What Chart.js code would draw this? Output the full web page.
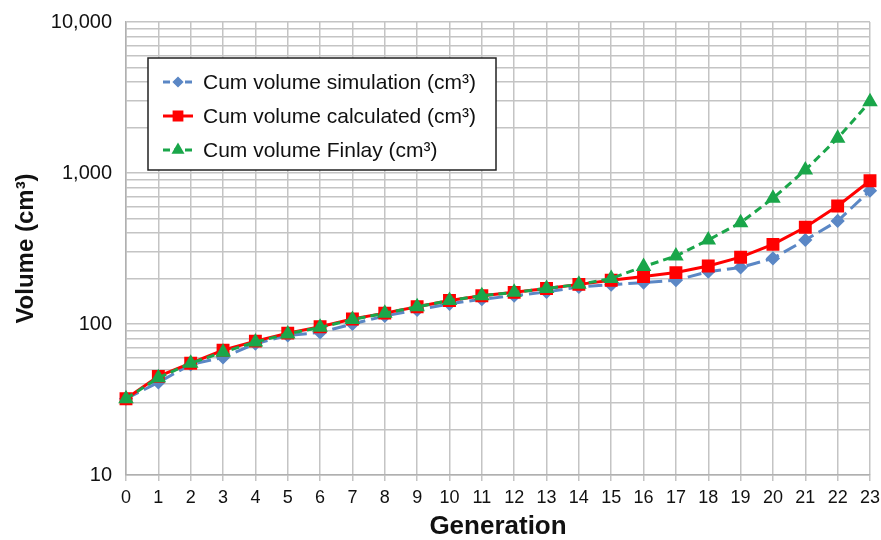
<!DOCTYPE html>
<html>
<head>
<meta charset="utf-8">
<script src="https://cdn.jsdelivr.net/npm/chart.js@4.4.0/dist/chart.umd.min.js"></script>
<style>
  html, body { margin: 0; padding: 0; background: #fff; }
  #wrap { width: 881px; height: 540px; }
</style>
</head>
<body>
<div id="wrap"><canvas id="chartLine" width="881" height="540"></canvas></div>
<script>
// data
var generations = ['0','1','2','3','4','5','6','7','8','9','10','11','12','13','14','15','16','17','18','19','20','21','22','23'];
var simVolume  = [32, 41, 54, 60, 74, 84, 88, 100, 113, 124, 136, 146, 154, 163, 176, 182, 188, 195, 222, 237, 272, 360, 481, 763];
var calcVolume = [32, 45, 55, 67, 77, 87, 96, 108, 118, 130, 143, 154, 162, 172, 183, 195, 206, 219, 242, 277, 337, 437, 605, 889];
var finlayVolume = [32, 44, 55, 65, 76, 86, 95, 107, 118, 130, 143, 154, 162, 172, 183, 200, 240, 282, 360, 469, 680, 1047, 1698, 2966];
var yTickValues = [10, 100, 1000, 10000];

var FONT = "'Liberation Sans', Arial, sans-serif";
var NARROW = "'Liberation Sans Narrow', 'Arial Narrow', 'Liberation Sans', sans-serif";

// legend box inside the plot, drawn by hand
var boxLegend = {
    id: 'boxLegend',
    afterDraw: function(chart) {
        var ctx = chart.ctx;
        var x0 = 148, y0 = 58, w = 348, h = 112;
        ctx.save();
        ctx.fillStyle = '#fff';
        ctx.fillRect(x0, y0, w, h);
        ctx.strokeStyle = '#222';
        ctx.lineWidth = 1.5;
        ctx.strokeRect(x0, y0, w, h);
        var rows = [82, 116, 150];
        chart.data.datasets.forEach(function(ds, i) {
            var y = rows[i];
            ctx.strokeStyle = ds.borderColor;
            ctx.lineWidth = 3;
            ctx.setLineDash(ds.borderDash ? [7, 4] : []);
            ctx.beginPath();
            ctx.moveTo(163, y);
            ctx.lineTo(193, y);
            ctx.stroke();
            ctx.setLineDash([]);
            ctx.fillStyle = ds.pointBackgroundColor;
            ctx.strokeStyle = ds.pointBorderColor;
            Chart.helpers.drawPoint(ctx, {
                pointStyle: ds.pointStyle,
                radius: ds.pointRadius - 1.5,
                borderWidth: 1
            }, 178, y);
            ctx.fillStyle = '#111';
            ctx.font = '21px ' + FONT;
            ctx.textBaseline = 'middle';
            ctx.textAlign = 'left';
            ctx.fillText(ds.label, 203, y + 1);
        });
        ctx.restore();
    }
};

var ctx = document.getElementById('chartLine').getContext('2d');
var chart = new Chart(ctx, {
    type: 'line',
    data: {
        labels: generations,
        datasets: [{
            label: 'Cum volume simulation (cm³)',
            data: simVolume,
            borderColor: '#5b87c5',
            backgroundColor: '#5b87c5',
            pointBackgroundColor: '#5b87c5',
            pointBorderColor: '#5b87c5',
            borderWidth: 3,
            borderDash: [14, 6],
            pointStyle: 'rectRot',
            pointRadius: 5,
            order: 3
        }, {
            label: 'Cum volume calculated (cm³)',
            data: calcVolume,
            borderColor: '#ff0000',
            backgroundColor: '#ff0000',
            pointBackgroundColor: '#ff0000',
            pointBorderColor: '#ff0000',
            borderWidth: 3,
            pointStyle: 'rect',
            pointRadius: 7,
            order: 2
        }, {
            label: 'Cum volume Finlay (cm³)',
            data: finlayVolume,
            borderColor: '#1aa64a',
            backgroundColor: '#1aa64a',
            pointBackgroundColor: '#1aa64a',
            pointBorderColor: '#1aa64a',
            borderWidth: 3,
            borderDash: [8, 5],
            pointStyle: 'triangle',
            pointRadius: 6,
            order: 1
        }]
    },
    options: {
        responsive: false,
        animation: false,
        layout: { padding: { top: 22, right: 11, left: 12, bottom: 0 } },
        plugins: {
            legend: { display: false },
            tooltip: { enabled: false }
        },
        elements: { line: { tension: 0 } },
        scales: {
            x: {
                type: 'category',
                offset: false,
                grid: { color: '#c4c4c4', lineWidth: 1.5, offset: false, tickLength: 6 },
                border: { color: '#b0b0b0', width: 1.5 },
                ticks: {
                    color: '#111',
                    font: { family: NARROW, size: 18 },
                    maxRotation: 0,
                    autoSkip: false,
                    padding: 6
                },
                title: {
                    display: true,
                    text: 'Generation',
                    color: '#111',
                    font: { family: FONT, size: 26, weight: 'bold', lineHeight: 1.0 },
                    padding: { top: 0, bottom: 0 }
                },
                afterFit: function(scale) {
                    scale.height = 65;
                    scale.paddingLeft = 0;
                    scale.paddingRight = 0;
                }
            },
            y: {
                type: 'logarithmic',
                min: 10,
                max: 10000,
                afterBuildTicks: function(scale) {
                    var t = [];
                    for (var d = 10; d < 10000; d *= 10) {
                        for (var k = 1; k < 10; k++) t.push({ value: d * k });
                    }
                    t.push({ value: 10000 });
                    scale.ticks = t;
                },
                grid: { color: '#c4c4c4', lineWidth: 1.5, drawTicks: false },
                border: { color: '#b0b0b0', width: 1.5 },
                ticks: {
                    color: '#111',
                    font: { family: FONT, size: 20 },
                    autoSkip: false,
                    padding: 14,
                    callback: function(v) {
                        return yTickValues.indexOf(v) >= 0 ? v.toLocaleString('en-US') : '';
                    }
                },
                title: {
                    display: true,
                    text: 'Volume (cm³)',
                    color: '#111',
                    font: { family: FONT, size: 24, weight: 'bold' },
                    padding: { top: 0, bottom: 0 }
                },
                afterFit: function(scale) {
                    scale.width = 114;
                    scale.paddingTop = 0;
                    scale.paddingBottom = 0;
                }
            }
        }
    },
    plugins: [boxLegend]
});
</script>
</body>
</html>
